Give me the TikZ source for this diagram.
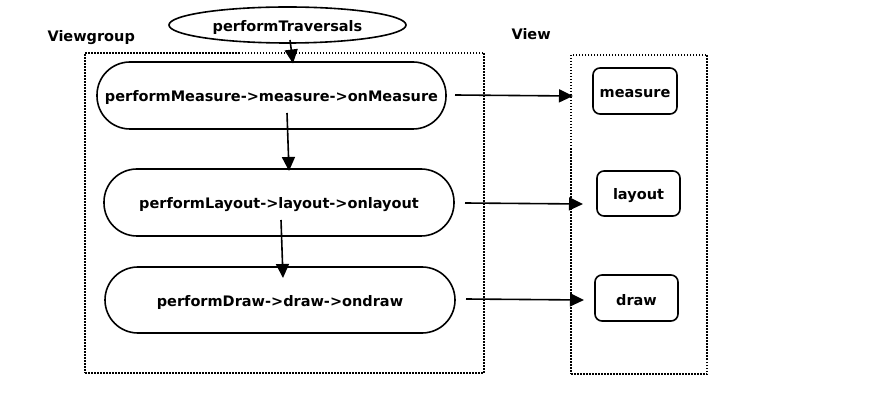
\documentclass[tikz,border=0pt]{standalone}
\usepackage{fontspec}
\setmainfont{DejaVu Sans}
\usetikzlibrary{arrows.meta,shapes.geometric}
\newcommand{\lowtxt}[1]{\raisebox{-2.5pt}[\height][\depth]{#1}}
\begin{document}
\begin{tikzpicture}[x=1pt,y=-1pt,
  every node/.style={font=\fontsize{14.5}{17}\selectfont\bfseries},
  pill/.style={draw,line width=1.6pt,rounded corners=33pt,minimum width=349pt,minimum height=67pt,inner sep=0pt},
  vbox/.style={draw,line width=1.6pt,rounded corners=7pt,minimum width=84pt,minimum height=46pt,inner sep=0pt},
  frame/.style={draw,line width=1.5pt,dash pattern=on 1.5pt off 1.5pt,inner sep=0pt},
  arr/.style={line width=1.6pt,-{Triangle[length=14pt,width=13pt]}}]
\useasboundingbox (0,0) rectangle (870,403);
\node[frame,minimum width=399pt,minimum height=320pt] (vg) at (284.5,213) {};
\node[frame,minimum width=136pt,minimum height=319pt] (vw) at (639,214.5) {};
\node[anchor=west] (vgl) at (44,38) {Viewgroup};
\node[anchor=west] (vwl) at (508,34) {View};
\node[draw,ellipse,line width=1.6pt,minimum width=237pt,minimum height=36pt,inner sep=0pt] (pt) at (287.5,25) {\lowtxt{performTraversals}};
\node[pill] (p1) at (271.5,95.5) {\lowtxt{performMeasure->measure->onMeasure}};
\node[pill,minimum width=350pt] (p2) at (279,202.5) {\lowtxt{performLayout->layout->onlayout}};
\node[pill,minimum width=350pt,minimum height=66pt] (p3) at (280,300) {\lowtxt{performDraw->draw->ondraw}};
\node[vbox] (m) at (635,91) {\lowtxt{measure}};
\node[vbox,minimum width=83pt,minimum height=45pt] (l) at (638.5,193.5) {\lowtxt{layout}};
\node[vbox,minimum width=83pt] (d) at (636.5,298) {\lowtxt{draw}};
\coordinate (a0) at (290,40);
\coordinate (a1) at (287,113);
\coordinate (a2) at (281,220);
\coordinate (h1) at (455,95);
\coordinate (h2) at (465,203);
\coordinate (h3) at (466,299);
\draw[arr] (a0) -- (293,63.5);
\draw[arr] (a1) -- (289,171);
\draw[arr] (a2) -- (283,278);
\draw[arr] (h1) -- (573,96);
\draw[arr] (h2) -- (583,204);
\draw[arr] (h3) -- (584,300);
\end{tikzpicture}
\end{document}
